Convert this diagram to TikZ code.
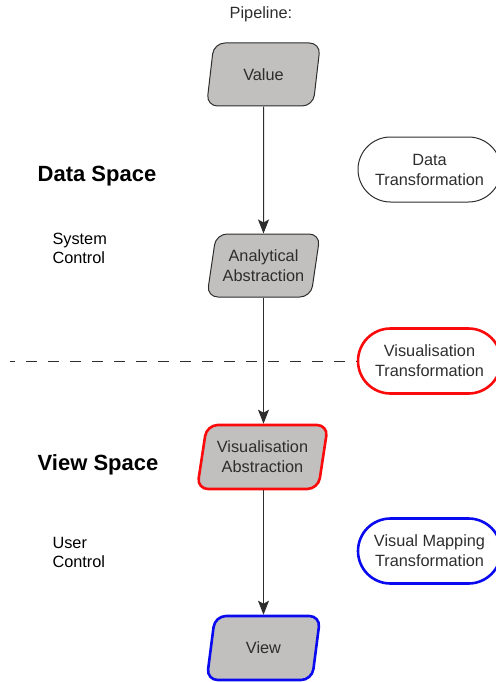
\documentclass[tikz,border=0pt]{standalone}
\usepackage{fontspec}
\setmainfont{Liberation Sans}
\usetikzlibrary{shapes.geometric,shapes.misc,arrows.meta}
\definecolor{boxgrey}{RGB}{194,192,190}
\definecolor{inkgrey}{RGB}{45,45,45}
\definecolor{hotred}{RGB}{250,10,10}
\definecolor{deepblue}{RGB}{10,10,240}
\tikzset{
  body/.style={font=\fontsize{16.3}{20}\selectfont, text=inkgrey, align=center},
  stepbox/.style={body, trapezium, trapezium left angle=76, trapezium right angle=104,
    trapezium stretches=true, minimum width=114pt, minimum height=63pt,
    rounded corners=11pt, inner sep=0pt, fill=boxgrey, draw=inkgrey, line width=1pt},
  transbox/.style={body, rounded rectangle, minimum width=143pt, minimum height=65pt,
    inner sep=0pt, draw=inkgrey, line width=1pt},
  flow/.style={draw=inkgrey, line width=1pt, -{Stealth[length=14pt,width=11pt,inset=3pt]}},
  heading/.style={font=\fontsize{22}{26}\selectfont\bfseries, text=black},
  sidenote/.style={font=\fontsize{16.3}{19}\selectfont, text=black, align=left, anchor=west}
}
\begin{document}
\begin{tikzpicture}[x=1pt,y=-1pt]
  \useasboundingbox (0,0) rectangle (495,682);

  % pipeline stages
  \node[body] (title) at (261,14) {Pipeline:};
  \node[stepbox] (value) at (263.5,74.5) {Value};
  \node[stepbox] (analytic) at (263.5,265.5) {Analytical\\Abstraction};
  \node[stepbox, minimum width=131pt, minimum height=64pt, draw=hotred, line width=2.6pt]
    (visabs) at (262.5,457) {Visualisation\\Abstraction};
  \node[stepbox, minimum height=64pt, draw=deepblue, line width=2.6pt]
    (view) at (263.5,648) {View};

  % transformations
  \node[transbox] (datatr) at (429.5,169.5) {Data\\Transformation};
  \node[transbox, draw=hotred, line width=2.6pt] (vistr) at (429.5,361) {Visualisation\\Transformation};
  \node[transbox, draw=deepblue, line width=2.6pt] (maptr) at (429.5,551) {Visual Mapping\\Transformation};

  % space labels
  \node[heading] (dataspace) at (97,176) {Data Space};
  \node[heading] (viewspace) at (98,465) {View Space};
  \node[sidenote] (sysctl) at (49,248) {System\\Control};
  \node[sidenote] (usrctl) at (49,552) {User\\Control};

  % flow between stages
  \draw[flow] (value.south) -- (analytic.north);
  \draw[flow] (analytic.south) -- (visabs.north -| analytic.south);
  \draw[flow] (visabs.south -| view.north) -- (view.north);

  % boundary between data and view space
  \coordinate (leftend) at (10,361);
  \draw[draw=inkgrey, line width=1pt, dash pattern=on 11pt off 11pt, dash phase=6pt]
    (leftend) -- (vistr.west);
\end{tikzpicture}
\end{document}
